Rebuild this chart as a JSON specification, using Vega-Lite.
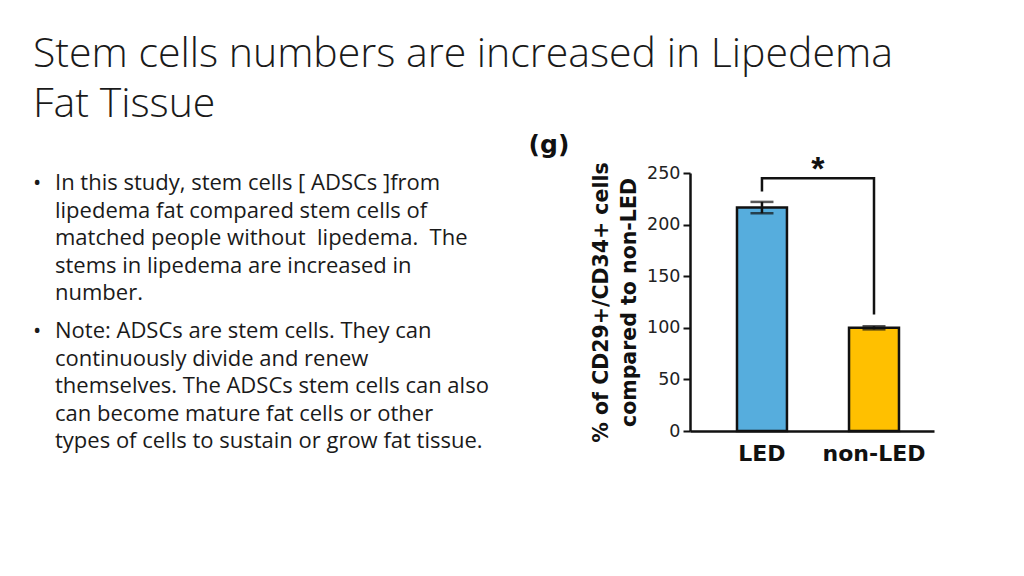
{
  "$schema": "https://vega.github.io/schema/vega-lite/v6.json",
  "background": "white",
  "padding": {"left": 33, "top": 34, "right": 10, "bottom": 10},
  "title": {
    "text": ["Stem cells numbers are increased in Lipedema", "Fat Tissue"],
    "anchor": "start",
    "frame": "bounds",
    "font": "Open Sans",
    "fontSize": 41,
    "fontWeight": 300,
    "color": "#1a1a1a",
    "lineHeight": 50,
    "offset": 7
  },
  "config": {"view": {"stroke": null}},
  "spacing": 25,
  "hconcat": [
    {
      "width": 470,
      "height": 258,
      "data": {
        "values": [
          {"para": 1, "kind": "bullet", "text": "•"},
          {"para": 1, "kind": "body", "text": "In this study, stem cells [ ADSCs ]from\nlipedema fat compared stem cells of\nmatched people without\u00a0 lipedema.\u00a0 The\nstems in lipedema are increased in\nnumber."},
          {"para": 2, "kind": "bullet", "text": "•"},
          {"para": 2, "kind": "body", "text": "Note: ADSCs are stem cells. They can\ncontinuously divide and renew\nthemselves. The ADSCs stem cells can also\ncan become mature fat cells or other\ntypes of cells to sustain or grow fat tissue."}
        ]
      },
      "mark": {
        "type": "text",
        "align": "left",
        "baseline": "alphabetic",
        "font": "Open Sans",
        "fontSize": 22,
        "lineHeight": 27.6,
        "lineBreak": "\n",
        "color": "#1a1a1a"
      },
      "encoding": {
        "x": {"field": "kind", "type": "nominal", "scale": {"type": "point", "domain": ["bullet", "body"], "range": [0, 22], "padding": 0}, "axis": null},
        "y": {"field": "para", "type": "ordinal", "scale": {"type": "point", "range": [17, 165], "padding": 0}, "axis": null},
        "text": {"field": "text"}
      }
    },
    {
      "width": 244,
      "height": 258,
      "title": {
        "text": "(g)",
        "anchor": "start",
        "frame": "bounds",
        "font": "DejaVu Sans",
        "fontSize": 25,
        "fontWeight": "bold",
        "color": "#111",
        "dx": -63,
        "offset": -5
      },
      "data": {
        "values": [
          {"group": "LED", "mean": 216.5, "lo": 211, "hi": 222},
          {"group": "non-LED", "mean": 100, "lo": 98.5, "hi": 101.5}
        ]
      },
      "encoding": {
        "x": {
          "field": "group",
          "type": "nominal",
          "scale": {"domain": ["LED", "non-LED"], "paddingInner": 0.554, "paddingOuter": 0.366, "align": 0.573},
          "axis": {
            "title": null,
            "labelAngle": 0,
            "labelFont": "DejaVu Sans",
            "labelFontSize": 22,
            "labelFontWeight": "bold",
            "labelColor": "#111",
            "labelPadding": 12,
            "ticks": false,
            "domainColor": "#111",
            "domainWidth": 2.5
          }
        }
      },
      "layer": [
        {
          "mark": {"type": "bar", "stroke": "#111", "strokeWidth": 2.5},
          "encoding": {
            "y": {
              "field": "mean",
              "type": "quantitative",
              "scale": {"domain": [0, 250], "nice": false},
              "axis": {
                "values": [0, 50, 100, 150, 200, 250],
                "title": ["% of CD29+/CD34+ cells", "compared to non-LED"],
                "titleFont": "DejaVu Sans",
                "titleFontSize": 20.5,
                "titleFontWeight": "bold",
                "titleColor": "#111",
                "titleLineHeight": 28,
                "titlePadding": 7,
                "labelFont": "DejaVu Sans",
                "labelFontSize": 17.5,
                "labelColor": "#222",
                "labelPadding": 3,
                "tickSize": 7,
                "tickWidth": 2,
                "tickColor": "#111",
                "domainColor": "#111",
                "domainWidth": 2.5,
                "grid": false
              }
            },
            "color": {"field": "group", "type": "nominal", "scale": {"domain": ["LED", "non-LED"], "range": ["#56ADDD", "#FFC000"]}, "legend": null}
          }
        },
        {
          "mark": {"type": "rule", "strokeWidth": 2.5, "color": "#111"},
          "encoding": {"y": {"field": "lo", "type": "quantitative"}, "y2": {"field": "hi"}}
        },
        {
          "mark": {"type": "tick", "orient": "horizontal", "thickness": 2.5, "size": 23, "color": "#111"},
          "encoding": {"y": {"field": "lo", "type": "quantitative"}}
        },
        {
          "mark": {"type": "tick", "orient": "horizontal", "thickness": 2.5, "size": 23, "color": "#111"},
          "encoding": {"y": {"field": "hi", "type": "quantitative"}}
        },
        {
          "data": {
            "values": [
              {"group": "LED", "v": 232, "o": 1},
              {"group": "LED", "v": 245, "o": 2},
              {"group": "non-LED", "v": 245, "o": 3},
              {"group": "non-LED", "v": 113, "o": 4}
            ]
          },
          "mark": {"type": "line", "strokeWidth": 2.5, "color": "#111"},
          "encoding": {
            "y": {"field": "v", "type": "quantitative"},
            "order": {"field": "o", "type": "quantitative"}
          }
        },
        {
          "data": {"values": [{"group": "LED", "v": 243, "label": "*"}]},
          "mark": {"type": "text", "dx": 56, "baseline": "alphabetic", "font": "Liberation Sans", "fontSize": 34, "fontWeight": "bold", "color": "#111"},
          "encoding": {
            "y": {"field": "v", "type": "quantitative"},
            "text": {"field": "label"}
          }
        }
      ]
    }
  ]
}
